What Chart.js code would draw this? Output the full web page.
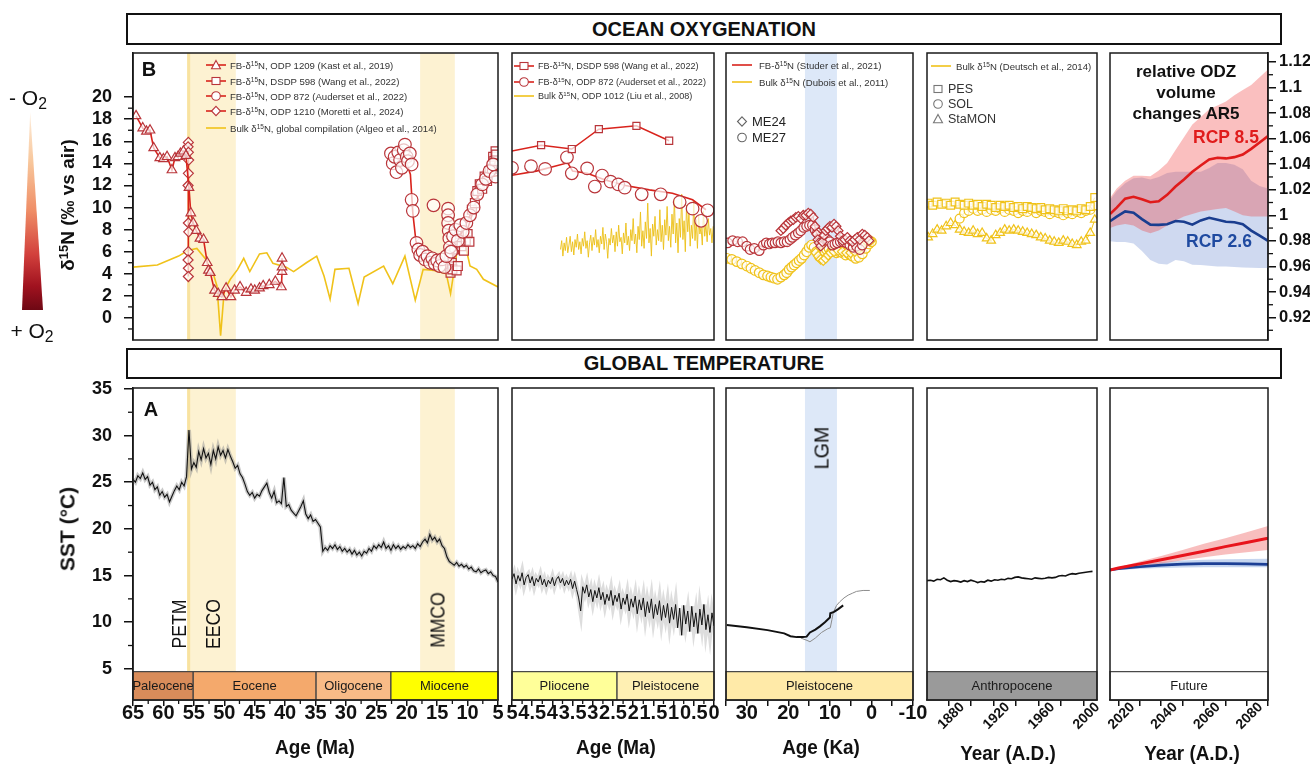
<!DOCTYPE html>
<html>
<head>
<meta charset="utf-8">
<title>Ocean oxygenation and global temperature</title>
<script src="https://cdn.jsdelivr.net/npm/chart.js@4.4.1/dist/chart.umd.min.js"></script>
<style>
  body { margin: 0; background: #fff; }
  #stage { position: relative; width: 1310px; height: 771px; overflow: hidden; font-family: "Liberation Sans", Arial, sans-serif; color: #111; }
  #stage canvas { position: absolute; z-index: 1; }
  .t { position: absolute; transform: translate(-50%, -50%); white-space: nowrap; line-height: 1; z-index: 3; }
  .rot { transform: translate(-50%, -50%) rotate(-90deg); }
  .nb { font-weight: bold; transform: translate(-50%, -50%) scaleX(0.9); }
  .hbox { position: absolute; box-sizing: border-box; border: 2px solid #111; display: flex; align-items: center; justify-content: center; font: bold 20px "Liberation Sans", Arial, sans-serif; background: #fff; z-index: 3; }
  .lg { position: absolute; display: flex; align-items: center; gap: 3px; transform: translateY(-50%); white-space: nowrap; color: #333; font-size: 9.6px; z-index: 3; }
  .lg svg { display: block; }
  sup { font-size: 0.68em; line-height: 0; vertical-align: 0.45em; }
  sub { font-size: 0.75em; line-height: 0; vertical-align: -0.3em; }
  #cbar { position: absolute; left: 22px; top: 112px; width: 21px; height: 198px; z-index: 3;
          background: linear-gradient(to bottom, #fdeedd 0%, #f8c79c 25%, #ef8d66 50%, #d2403c 72%, #a0121f 88%, #6e0814 100%);
          clip-path: polygon(39% 0, 100% 100%, 0 100%); }
</style>
</head>
<body>
<div id="stage">
  <div class="hbox" style="left:126px;top:13px;width:1156px;height:32px">OCEAN OXYGENATION</div>
  <div class="hbox" style="left:126px;top:348px;width:1156px;height:31px">GLOBAL TEMPERATURE</div>
  <div id="cbar"></div>
</div>
<script>
// ---------- tick labels ----------
const ageTicksMa = [65, 60, 55, 50, 45, 40, 35, 30, 25, 20, 15, 10, 5];
const ageTicksPlio = [5, 4.5, 4, 3.5, 3, 2.5, 2, 1.5, 1, 0.5, 0];
const ageTicksKa = [35, 30, 25, 20, 15, 10, 5, 0, -5, -10];
const ageLabelsKa = [30, 20, 10, 0, -10];
const yearTicksHist = [1880, 1900, 1920, 1940, 1960, 1980, 2000];
const yearLabelsHist = [1880, 1920, 1960, 2000];
const yearTicksFut = [2020, 2030, 2040, 2050, 2060, 2070, 2080, 2090];
const yearLabelsFut = [2020, 2040, 2060, 2080];
const sstTicks = [5, 10, 15, 20, 25, 30, 35];
const d15nTicks = [0, 2, 4, 6, 8, 10, 12, 14, 16, 18, 20];
const odzTicks = [0.92, 0.94, 0.96, 0.98, 1, 1.02, 1.04, 1.06, 1.08, 1.1, 1.12];

// ---------- epochs and shaded intervals ----------
const epochsCenozoic = [
  {from: 65, to: 55.1, label: 'Paleocene', color: '#d98c5a'},
  {from: 55.1, to: 34.9, label: 'Eocene', color: '#f4a96c'},
  {from: 34.9, to: 22.6, label: 'Oligocene', color: '#f8bb87'},
  {from: 22.6, to: 5, label: 'Miocene', color: '#ffff00'}
];
const epochsPlio = [
  {from: 5, to: 2.4, label: 'Pliocene', color: '#ffff99'},
  {from: 2.4, to: 0, label: 'Pleistocene', color: '#fff0b3'}
];
const epochsLGM = [{from: 35, to: -10, label: 'Pleistocene', color: '#ffeaa8'}];
const epochsHist = [{from: 1861, to: 2012, label: 'Anthropocene', color: '#9a9a9a'}];
const epochsFut = [{from: 2016, to: 2090, label: 'Future', color: '#ffffff'}];
const climateBands = [
  {from: 56.1, to: 48.1, color: '#fdf2d2'},   // EECO
  {from: 56.1, to: 55.6, color: '#f8e2a0'},   // PETM
  {from: 17.8, to: 12.1, color: '#fdf2d2'}    // MMCO
];
const lgmBand = [{from: 16, to: 8.3, color: '#dde8f8'}];

// ---------- B: d15N records (age Ma, permil) ----------
const kast1209 = [[64.5,18.3],[63.4,17.2],[62.8,16.9],[62.2,17.0],[61.6,15.4],[60.6,14.5],[60.0,14.4],[59.4,14.6],[58.6,13.4],[58.1,14.5],[57.6,14.6],[57.2,14.9],[56.7,15.1],[56.3,14.7],[55.8,11.8],[55.5,9.5],[55.1,8.6],[54.6,7.9],[54.0,7.2],[53.4,7.1],[52.8,5.0],[52.6,4.3],[52.3,4.1],[51.6,2.5],[51.0,2.2],[50.4,1.9],[49.7,2.7],[48.9,1.9],[48.3,2.5],[47.4,2.8],[46.4,2.3],[45.6,2.6],[45.0,2.5],[44.2,2.7],[43.6,2.9],[42.6,3.0],[41.6,3.3],[40.6,2.8],[40.5,4.2],[40.5,4.6],[40.5,5.4]];
const moretti1210 = [[55.9,15.9],[55.95,15.5],[55.9,15.0],[55.85,14.3],[55.9,13.1],[55.95,12.0],[55.9,8.6],[55.85,7.8],[55.9,6.0],[55.95,5.25],[55.9,4.5],[55.9,3.75]];
const auderset872 = [[22.6,14.9],[22.3,14.0],[22.0,14.6],[21.7,13.2],[21.4,15.0],[21.1,14.3],[20.8,13.6],[20.5,15.2],[20.3,15.7],[20.0,14.6],[19.8,14.2],[19.5,14.9],[19.2,13.9],[19.2,10.7],[19.0,9.7],[18.4,6.8],[18.1,6.2],[17.8,5.7],[17.4,6.0],[17.0,5.3],[16.6,5.6],[16.2,5.0],[15.8,5.4],[15.6,10.2],[15.4,4.9],[15.0,5.2],[14.6,4.7],[14.2,5.3],[13.8,4.6],[13.5,5.6],[13.2,9.9],[13.2,9.3],[13.2,8.6],[13.1,7.9],[13.0,7.2],[12.9,6.4],[12.7,6.0],[12.4,7.4],[12.0,8.0],[11.6,7.0],[11.2,8.4],[10.8,7.8],[10.2,8.6],[9.6,9.3],[9.0,10.0],[8.4,11.2],[7.6,12.1],[7.0,12.6],[6.4,13.3],[5.8,13.9],[5.4,12.8]];
const auderset872Fit = [[22.6,14.6],[21.0,14.3],[20.0,14.0],[19.4,13.0],[19.0,9.5],[18.5,7.0],[18.0,6.0],[17.0,5.6],[16.0,5.3],[15.0,5.1],[14.0,5.0],[13.0,5.3],[12.0,6.5],[11.0,7.7],[10.0,8.8],[9.0,10.0],[8.0,11.3],[7.0,12.3],[6.0,12.8],[5.0,12.9]];
const wang598 = [[13.0,5.5],[12.9,4.6],[12.8,4.1],[12.6,5.0],[12.5,4.4],[12.2,6.2],[12.0,7.1],[11.8,4.3],[11.6,4.7],[11.4,6.8],[11.0,6.5],[10.6,6.1],[10.3,7.0],[10.0,7.6],[9.7,6.9],[9.3,9.8],[8.8,10.4],[8.4,11.5],[8.0,12.1],[7.6,11.7],[7.2,12.8],[6.8,12.4],[6.4,13.3],[6.0,13.5],[5.8,14.6],[5.6,14.2],[5.4,15.1],[5.3,14.8]];
const wang598Fit = [[13.2,4.8],[12.9,5.0],[11.8,5.8],[10.7,6.9],[9.8,8.4],[9.0,9.8],[8.2,11.3],[7.3,12.0],[6.3,12.6],[5.7,13.7],[5.2,14.6],[4.9,15.0]];
const algeoBulk = [[65,4.6],[61,4.8],[57.5,5.6],[56,6.1],[54.5,6.3],[53,5.3],[51.8,4.0],[51.2,2.9],[50.6,-1.6],[50.0,2.5],[49.0,3.5],[47.8,4.4],[46.8,5.4],[45.8,4.2],[44.2,5.8],[43.0,5.9],[42.0,4.95],[39.8,4.6],[38.6,4.2],[36.5,5.0],[34.8,5.6],[33.6,3.8],[32.6,1.7],[31.8,4.4],[29.5,4.5],[28.0,1.3],[27.0,3.7],[23.8,4.7],[22.3,3.1],[20.3,5.6],[18.6,1.6],[17.3,4.4],[15.5,4.3],[13.5,4.0],[12.8,2.2],[11.8,5.8],[10.7,7.4],[9.6,4.7],[8.5,4.4],[7.4,3.5],[5,2.8]];

// Pliocene-Pleistocene (Ma)
const wang598Plio = [[5.3,14.9],[4.28,15.65],[3.52,15.3],[2.85,17.1],[1.92,17.4],[1.11,16.05]];
const auderset872Plio = [[5.0,13.6],[4.53,13.75],[4.18,13.5],[3.64,14.55],[3.52,13.1],[3.14,13.55],[2.95,11.9],[2.77,12.9],[2.56,12.35],[2.37,12.1],[2.21,11.8],[1.79,11.2],[1.32,11.2],[0.85,10.5],[0.53,9.9],[0.32,8.8],[0.16,9.75]];
const auderset872PlioFit = [[5.2,12.8],[4.4,13.3],[3.62,14.05],[3.5,13.3],[3.14,13.1],[2.69,12.5],[2.19,12.0],[1.6,11.6],[1.03,11.3],[0.53,10.7],[0.2,9.8]];
const liu1012Start = 3.8, liu1012Step = -0.03;
const liu1012 = [
  6.2,7.0,5.6,6.8,6.1,7.3,5.9,6.6,7.4,6.0,
  6.9,5.7,7.1,6.4,7.6,6.2,6.9,5.8,7.2,6.5,
  7.8,6.3,7.0,5.5,6.8,7.5,6.1,7.3,6.6,8.0,
  6.4,7.1,5.9,7.4,6.7,8.2,6.2,7.6,6.9,5.4,
  7.2,6.6,8.1,6.8,7.5,6.0,7.8,6.5,8.4,6.9,
  7.3,5.8,7.7,6.8,8.6,6.6,7.4,6.1,8.0,7.0,
  9.0,6.7,7.6,5.9,8.3,7.1,9.6,6.5,7.9,6.3,
  8.7,7.2,10.4,6.8,8.1,5.6,8.5,7.4,9.2,6.6,
  8.0,7.0,9.8,6.9,8.4,6.2,8.9,7.5,10.1,7.0,
  8.3,6.4,9.4,7.6,10.8,6.8,8.6,5.9,9.0,7.3,
  11.2,7.1,8.8,6.0,10.2,7.8,9.5,6.5,8.4,7.2,
  10.6,7.0,8.9,6.3,9.3,7.6,8.2,6.6,9.7,7.4,
  8.5,6.9,9.0,7.5,8.1,6.8,8.3];

// Last glacial (ka)
const studerME27 = [[34.6,6.8],[33.4,7.0],[32.2,6.9],[31.0,6.9],[30.0,6.5],[29.2,6.2],[28.2,6.3],[27.0,6.1],[26.0,6.6],[25.3,6.8],[24.6,6.7],[23.9,6.8],[23.2,6.8],[22.5,6.9],[21.8,6.8],[21.0,6.9],[20.3,6.9],[19.6,7.1],[19.0,7.3],[18.3,7.5],[17.6,7.7],[17.0,7.9],[16.3,8.2],[15.6,8.3],[14.9,8.4],[14.2,8.4],[13.6,8.0],[13.0,7.7],[12.4,7.3],[11.8,7.2],[11.2,7.3],[10.6,7.1],[10.0,6.9],[9.4,6.6],[8.8,6.7],[8.2,6.8],[7.5,6.9],[6.8,6.9],[6.0,6.8],[5.2,6.6],[4.4,6.4],[3.6,6.5],[2.8,6.2],[2.2,6.6]];
const studerME24 = [[21.8,7.9],[21.2,8.1],[20.6,8.4],[20.0,8.6],[19.4,8.8],[18.8,8.9],[18.2,9.1],[17.6,9.2],[17.0,9.0],[16.4,9.3],[15.8,9.3],[15.2,9.5],[14.6,9.4],[14.0,9.1],[13.6,8.3],[13.2,7.6],[12.9,7.1],[12.6,6.8],[12.2,6.5],[11.8,6.9],[11.4,7.5],[11.0,7.9],[10.5,8.1],[10.0,8.3],[9.5,8.2],[9.0,8.5],[8.5,8.3],[8.0,7.9],[7.5,7.4],[7.0,7.0],[6.4,7.1],[5.8,7.3],[5.2,7.0],[4.6,6.9],[4.0,7.1],[3.4,7.3],[2.8,7.1],[2.2,7.6],[1.6,7.5],[1.0,7.3],[0.6,7.0]];
const duboisME27 = [[34.8,5.4],[33.6,5.3],[32.4,5.1],[31.2,4.9],[30.0,4.7],[29.0,4.5],[28.0,4.3],[27.0,4.1],[26.0,3.9],[25.0,3.8],[24.2,3.7],[23.4,3.6],[22.6,3.5],[21.8,3.7],[21.0,3.9],[20.4,4.1],[19.8,4.4],[19.2,4.6],[18.6,4.8],[18.0,5.0],[17.4,5.2],[16.8,5.4],[16.2,5.7],[15.6,6.0],[15.0,6.4],[14.4,6.6],[13.8,6.4],[13.2,6.0],[12.6,5.6],[12.0,5.8],[11.4,6.0],[10.8,6.2],[10.2,6.3],[9.6,6.0],[9.0,6.1],[8.4,5.9],[7.8,6.0],[7.0,5.9],[6.2,5.7],[5.4,5.8],[4.6,5.6],[3.8,5.4],[3.0,5.5],[2.2,5.8],[1.4,6.3],[0.6,6.7],[0.0,6.9]];
const duboisME24 = [[13.4,5.9],[12.8,5.6],[12.2,5.3],[11.6,5.2],[11.0,5.4],[10.4,5.7],[9.8,5.9],[9.0,6.0],[8.0,6.1],[7.0,6.0],[6.0,5.9],[5.0,5.9],[4.0,6.0],[3.0,6.3],[2.2,6.6],[1.4,7.0],[0.8,7.2],[0.2,7.0]];

// Industrial era (year AD), one value every 4 years from 1862
const deutschStart = 1862, deutschStep = 4;
const pes = [10.4,10.2,10.5,10.3,10.4,10.2,10.5,10.3,10.2,10.4,
             10.2,10.3,10.1,10.3,10.2,10.0,10.2,10.1,10.2,10.0,
             10.1,9.9,10.1,10.0,9.9,10.0,9.8,9.9,9.8,9.7,
             9.9,9.7,9.8,9.7,9.9,9.8,10.1,10.9];
const sol = [null,null,null,null,null,null,null,9.0,9.5,9.7,
             9.9,9.7,9.8,9.6,9.8,9.7,9.9,9.6,9.8,9.7,
             9.5,9.7,9.6,9.8,9.5,9.7,9.6,9.4,9.6,9.5,
             9.3,9.5,9.4,9.6,9.5,9.7,9.8,10.2];
const staMON = [7.3,7.6,8.0,7.9,8.3,8.6,8.4,8.0,7.8,7.7,
                7.9,7.6,7.7,7.2,7.0,7.5,7.7,8.0,7.9,8.0,
                7.9,7.8,7.7,7.6,7.5,7.3,7.2,7.0,6.9,6.8,
                7.0,6.9,6.7,6.6,6.9,7.0,7.7,8.9];

// ODZ volume projections (AR5)
const odzYears = [2006,2010,2015,2020,2025,2030,2035,2040,2045,2050,2055,2060,2065,2070,2075,2080,2085,2090,2095,2100];
const odz85 = [1.001,1.006,1.013,1.0145,1.0125,1.0102,1.011,1.016,1.0225,1.028,1.034,1.039,1.0437,1.045,1.0445,1.0455,1.0476,1.052,1.057,1.062];
const odz85Hi = [1.0136,1.021,1.027,1.031,1.031,1.0305,1.035,1.041,1.051,1.061,1.071,1.077,1.083,1.086,1.089,1.094,1.098,1.102,1.108,1.114];
const odz85Lo = [0.990,0.992,0.9932,0.992,0.988,0.986,0.988,0.992,0.996,0.999,1.001,1.003,1.004,1.005,1.0057,1.003,1.0,0.999,0.999,0.999];
const odz26 = [0.9953,0.999,1.003,1.002,0.997,0.9927,0.9925,0.993,0.9955,0.995,0.9927,0.996,0.998,0.9965,0.995,0.9945,0.993,0.988,0.984,0.980];
const odz26Hi = [1.012,1.019,1.025,1.029,1.0295,1.028,1.030,1.033,1.034,1.034,1.034,1.034,1.037,1.041,1.041,1.0395,1.036,1.027,1.023,1.021];
const odz26Lo = [0.9796,0.979,0.979,0.978,0.972,0.965,0.962,0.9615,0.965,0.964,0.9613,0.961,0.9605,0.960,0.960,0.9595,0.9592,0.959,0.9588,0.9587];

// ---------- A: SST records (deg C) ----------
const sstCenozoicStart = 65, sstCenozoicStep = -0.4;
const sstCenozoic = [
  25.3,25.0,25.7,25.4,26.0,25.3,25.6,24.7,25.0,24.2,
  24.5,23.6,24.0,23.4,23.7,22.9,23.5,24.1,24.6,24.2,
  25.0,24.6,25.6,30.6,26.4,27.1,26.6,28.3,27.4,28.6,
  27.6,28.1,26.9,28.4,27.5,28.8,27.9,28.4,27.6,28.5,
  27.8,27.2,26.5,26.8,25.9,25.5,24.8,24.0,23.6,23.9,
  23.3,23.7,23.5,24.1,24.5,24.9,23.9,23.3,24.0,22.8,
  23.0,22.7,25.5,22.4,22.6,22.0,21.7,21.4,21.9,22.4,
  23.0,21.6,21.1,21.5,20.8,21.0,20.6,20.2,17.6,18.0,
  17.7,18.2,17.9,18.3,17.8,18.1,17.6,17.9,17.5,17.8,
  17.3,17.7,17.2,17.5,17.1,17.6,17.4,17.9,17.6,18.2,
  17.9,18.3,18.0,18.6,17.9,18.2,17.7,18.3,17.9,18.2,
  17.8,18.1,17.9,18.3,18.0,18.2,17.9,18.4,18.1,18.6,
  18.9,18.5,19.4,18.8,19.1,18.6,18.9,18.2,17.9,17.0,
  16.5,16.3,16.1,16.4,16.0,16.2,15.9,16.1,15.7,15.9,
  15.5,15.4,15.7,15.3,15.5,15.6,15.2,15.4,15.0,14.9,
  14.3];
const sstPlioStart = 5, sstPlioStep = -0.05;
const sstPlio = [
  14.6,15.2,14.1,15.0,14.4,15.3,14.0,14.8,15.1,14.2,
  14.9,13.9,14.7,14.3,15.0,14.0,14.6,13.8,14.5,14.1,
  14.8,13.9,14.6,14.9,14.2,14.7,13.9,14.5,14.0,14.6,
  13.6,14.4,13.5,12.6,11.2,13.8,13.1,14.0,12.7,13.5,
  12.2,13.4,12.6,13.7,12.4,13.2,11.9,13.0,12.3,13.4,
  11.8,12.9,12.2,13.1,11.4,12.6,11.9,13.0,11.2,12.5,
  11.6,12.8,10.9,12.4,11.3,12.6,10.6,12.2,11.0,12.5,
  10.4,11.9,10.8,12.3,10.2,11.8,10.5,12.0,9.9,11.6,
  10.3,11.9,9.4,11.5,8.6,11.8,9.8,11.2,9.0,11.7,
  9.5,11.0,8.8,11.4,9.7,11.9,9.2,10.8,8.9,11.0,
  9.6];
const sstLGM = [[34.8,9.7],[30,9.45],[25,9.15],[21,8.8],[19.5,8.5],[18,8.4],[16.5,8.4],[15.6,8.45],[14.8,8.9],[13.5,9.2],[12.4,9.55],[11.2,10.0],[10.0,10.5],[9.9,10.95],[9.0,11.1],[8.0,11.4],[6.8,11.8]];
const sstLGMalt = [[17.0,8.3],[15.5,8.05],[14.8,7.9],[13.5,8.3],[12.0,8.9],[10.5,9.3],[9.9,9.4],[9.5,10.3],[9.2,11.0],[8.4,11.8],[7.6,12.2],[6.6,12.6],[5.6,12.9],[4.6,13.1],[3.6,13.3],[2.0,13.4],[0.4,13.4]];
const sstHistStart = 1861, sstHistStep = 3;
const sstHist = [
  14.45,14.5,14.4,14.6,14.55,14.75,14.5,14.35,14.45,14.4,
  14.3,14.45,14.35,14.5,14.4,14.25,14.35,14.3,14.5,14.4,
  14.55,14.5,14.6,14.55,14.7,14.65,14.8,14.85,14.75,14.7,
  14.65,14.6,14.75,14.7,14.65,14.7,14.8,14.75,14.8,14.95,
  15.0,14.95,15.1,15.2,15.15,15.25,15.3,15.35,15.4,15.45];
const futYears = [2016,2020,2030,2040,2050,2060,2070,2080,2090];
const fut85 = [15.6,15.8,16.25,16.7,17.15,17.6,18.1,18.55,19.0];
const fut85Hi = [15.65,15.9,16.5,17.1,17.75,18.4,19.0,19.65,20.3];
const fut85Lo = [15.55,15.65,15.95,16.3,16.65,16.95,17.25,17.5,17.75];
const fut26 = [15.6,15.72,15.95,16.12,16.22,16.28,16.28,16.25,16.2];
const fut26Hi = [15.65,15.85,16.2,16.45,16.6,16.7,16.75,16.78,16.8];
const fut26Lo = [15.55,15.6,15.72,15.8,15.85,15.88,15.9,15.9,15.9];

// ---------- helpers ----------
const FONT = '"Liberation Sans", Arial, sans-serif';
Chart.defaults.font.family = FONT;
Chart.defaults.color = '#111';

const RED = '#d9231c', RED_MK = '#b9353a', YEL = '#f0c21a', BLUE = '#1b3f94';
const yFont = {family: FONT, weight: 'bold', size: 18};
const xFont = {family: FONT, weight: 'bold', size: 20, lineHeight: 1};
const rotFont = {family: FONT, weight: 'bold', size: 14, lineHeight: 1};

const pairs = arr => arr.map(p => ({x: p[0], y: p[1]}));
const zip = (xs, ys) => xs.map((x, i) => ({x, y: ys[i]}));
const seq = (start, step, vals) => vals.map((v, i) => ({x: +(start + i * step).toFixed(3), y: v}));
function range(a, b, s) { const r = []; for (let v = a; v <= b + 1e-9; v += s) r.push(+v.toFixed(4)); return r; }

function axis(o) {
  const a = {type: 'linear', min: o.min, max: o.max, reverse: !!o.reverse, bounds: 'data', position: o.pos, display: !!o.ticks};
  if (!o.ticks) return a;
  a.afterBuildTicks = s => { s.ticks = o.ticks.map(v => ({value: v})); };
  a.afterFit = s => {
    if (s.isHorizontal()) s.height = o.size; else s.width = o.size;
    s.paddingLeft = s.paddingRight = s.paddingTop = s.paddingBottom = 0;
  };
  a.grid = {drawOnChartArea: false, drawTicks: true, tickLength: o.len || 8, tickWidth: 1.5, tickColor: '#111', color: '#111', lineWidth: 1.5};
  a.border = {display: true, color: '#111', width: 1.5};
  a.ticks = {font: o.font, color: '#111', padding: o.pad || 0, autoSkip: false,
             maxRotation: o.rot || 0, minRotation: o.rot || 0, labelOffset: o.off || 0,
             callback: v => (!o.labels || o.labels.includes(v)) ? String(v) : ''};
  return a;
}

const bandPlugin = {
  id: 'bands',
  beforeDatasetsDraw(chart, args, opts) {
    if (!opts || !opts.items) return;
    const {ctx, chartArea: a, scales: {x}} = chart;
    ctx.save();
    opts.items.forEach(b => {
      const x1 = x.getPixelForValue(b.from), x2 = x.getPixelForValue(b.to);
      ctx.fillStyle = b.color;
      ctx.fillRect(Math.min(x1, x2), a.top, Math.abs(x2 - x1), a.height);
    });
    ctx.restore();
  }
};

const epochPlugin = {
  id: 'epochs',
  afterDatasetsDraw(chart, args, opts) {
    if (!opts || !opts.items) return;
    const {ctx, chartArea: a, scales: {x, y}} = chart;
    const top = y.getPixelForValue(opts.top);
    ctx.save();
    opts.items.forEach(e => {
      const x1 = x.getPixelForValue(e.from), x2 = x.getPixelForValue(e.to);
      const l = Math.min(x1, x2), w = Math.abs(x2 - x1);
      ctx.fillStyle = e.color;
      ctx.fillRect(l, top, w, a.bottom - top);
      ctx.strokeStyle = '#444'; ctx.lineWidth = 1.2;
      ctx.strokeRect(l, top, w, a.bottom - top);
      ctx.fillStyle = '#1a1a1a';
      ctx.font = '13px ' + FONT;
      ctx.textAlign = 'center'; ctx.textBaseline = 'middle';
      ctx.fillText(e.label, l + w / 2, (top + a.bottom) / 2 + 1);
    });
    ctx.restore();
  }
};

const minorPlugin = {
  id: 'minor',
  afterDraw(chart, args, opts) {
    if (!opts || !opts.list) return;
    const {ctx, chartArea: a} = chart;
    ctx.save(); ctx.strokeStyle = '#111'; ctx.lineWidth = 1.3;
    opts.list.forEach(m => {
      const s = chart.scales[m.axis];
      m.values.forEach(v => {
        const p = s.getPixelForValue(v);
        ctx.beginPath();
        if (m.axis === 'x') { ctx.moveTo(p, a.bottom); ctx.lineTo(p, a.bottom + m.len); }
        else if (s.position === 'right') { ctx.moveTo(a.right, p); ctx.lineTo(a.right + m.len, p); }
        else { ctx.moveTo(a.left, p); ctx.lineTo(a.left - m.len, p); }
        ctx.stroke();
      });
    });
    ctx.restore();
  }
};

const framePlugin = {
  id: 'frame',
  afterDraw(chart) {
    const {ctx, chartArea: a} = chart;
    ctx.save(); ctx.strokeStyle = '#1a1a1a'; ctx.lineWidth = 1.5;
    ctx.strokeRect(a.left, a.top, a.width, a.height);
    ctx.restore();
  }
};

const stage = document.getElementById('stage');
function makeChart(box, pad, scales, datasets, plug) {
  const cv = document.createElement('canvas');
  cv.width = box.w; cv.height = box.h;
  cv.style.cssText = `left:${box.l}px;top:${box.t}px;width:${box.w}px;height:${box.h}px`;
  stage.appendChild(cv);
  return new Chart(cv, {
    type: 'scatter',
    data: {datasets},
    options: {
      responsive: false, animation: false, events: [],
      layout: {padding: pad},
      scales,
      plugins: Object.assign({legend: {display: false}, tooltip: {enabled: false}}, plug || {})
    },
    plugins: [bandPlugin, epochPlugin, minorPlugin, framePlugin]
  });
}

function line(data, color, width, extra) {
  return Object.assign({data, showLine: true, borderColor: color, borderWidth: width, pointRadius: 0, fill: false}, extra || {});
}
function marks(data, style, color, r, extra) {
  return Object.assign({data, showLine: false, pointStyle: style, pointRadius: r, pointBorderColor: color,
                        pointBackgroundColor: 'rgba(255,255,255,0.7)', pointBorderWidth: 1.2}, extra || {});
}

// ---------- top row: ocean oxygenation ----------
const padTop = {top: 8, bottom: 10};
const yD15N = {min: -2, max: 24};

makeChart({l: 40, t: 45, w: 470, h: 305}, Object.assign({left: 0, right: 12}, padTop), {
  x: axis({min: 5, max: 65, reverse: true}),
  y: axis(Object.assign({ticks: d15nTicks, size: 93, font: yFont, len: 9, pad: 12, pos: 'left'}, yD15N))
}, [
  marks(pairs(kast1209), 'triangle', RED_MK, 5.5, {showLine: true, borderColor: RED, borderWidth: 1.6}),
  marks(pairs(moretti1210), 'rectRot', RED_MK, 5, {showLine: true, borderColor: RED, borderWidth: 1.5}),
  marks(pairs(auderset872), 'circle', RED_MK, 6.3),
  marks(pairs(wang598), 'rect', RED_MK, 6.3),
  line(pairs(auderset872Fit), RED, 1.6),
  line(pairs(wang598Fit), RED, 1.6),
  line(pairs(algeoBulk), YEL, 1.6)
], {bands: {items: climateBands}, minor: {list: [{axis: 'y', values: range(-1, 19, 2), len: 5}]}});

makeChart({l: 502, t: 45, w: 222, h: 305}, Object.assign({left: 10, right: 10}, padTop), {
  x: axis({min: 0, max: 5, reverse: true}),
  y: axis(yD15N)
}, [
  marks(pairs(wang598Plio), 'rect', RED_MK, 5, {showLine: true, borderColor: RED, borderWidth: 1.5}),
  marks(pairs(auderset872Plio), 'circle', RED_MK, 6.3),
  line(pairs(auderset872PlioFit), RED, 1.6),
  line(seq(liu1012Start, liu1012Step, liu1012), 'rgba(236,192,22,0.9)', 1)
]);

makeChart({l: 716, t: 45, w: 207, h: 305}, Object.assign({left: 10, right: 10}, padTop), {
  x: axis({min: -10, max: 35, reverse: true}),
  y: axis(yD15N)
}, [
  marks(pairs(studerME24), 'rectRot', RED_MK, 4.8, {showLine: true, borderColor: RED, borderWidth: 1.2}),
  marks(pairs(studerME27), 'circle', RED_MK, 4.8, {showLine: true, borderColor: RED, borderWidth: 1.2}),
  marks(pairs(duboisME24), 'rectRot', YEL, 4.8, {showLine: true, borderColor: YEL, borderWidth: 1.2}),
  marks(pairs(duboisME27), 'circle', YEL, 4.8, {showLine: true, borderColor: YEL, borderWidth: 1.2})
], {bands: {items: lgmBand}});

makeChart({l: 917, t: 45, w: 190, h: 305}, Object.assign({left: 10, right: 10}, padTop), {
  x: axis({min: 1861, max: 2012}),
  y: axis(yD15N)
}, [
  marks(seq(deutschStart, deutschStep, pes), 'rect', YEL, 5.5, {showLine: true, borderColor: YEL, borderWidth: 1}),
  marks(seq(deutschStart, deutschStep, sol), 'circle', YEL, 4.5, {showLine: true, borderColor: YEL, borderWidth: 1}),
  marks(seq(deutschStart, deutschStep, staMON), 'triangle', YEL, 5, {showLine: true, borderColor: YEL, borderWidth: 1})
]);

makeChart({l: 1100, t: 45, w: 210, h: 305}, Object.assign({left: 10, right: 0}, padTop), {
  x: axis({min: 2006, max: 2100}),
  y: axis({min: 0.9024, max: 1.127, ticks: odzTicks, size: 42, font: {family: FONT, weight: 'bold', size: 16.5}, len: 8, pad: 3, pos: 'right'})
}, [
  line(zip(odzYears, odz85), '#e01b1b', 2.6),
  line(zip(odzYears, odz26), '#1a3d8f', 2.6),
  line(zip(odzYears, odz85Hi), 'rgba(0,0,0,0)', 0, {fill: '+1', backgroundColor: 'rgba(240,60,60,0.33)'}),
  line(zip(odzYears, odz85Lo), 'rgba(0,0,0,0)', 0),
  line(zip(odzYears, odz26Hi), 'rgba(0,0,0,0)', 0, {fill: '+1', backgroundColor: 'rgba(160,180,225,0.5)'}),
  line(zip(odzYears, odz26Lo), 'rgba(0,0,0,0)', 0)
], {minor: {list: [{axis: 'y', values: range(0.91, 1.11, 0.02), len: 5}]}});

// ---------- bottom row: global temperature ----------
const padBot = {top: 8, bottom: 31};
const ySST = {min: 1.66, max: 35.1};
const stripTop = 4.7;

makeChart({l: 40, t: 380, w: 470, h: 391}, Object.assign({left: 0, right: 12}, padBot), {
  x: axis({min: 5, max: 65, reverse: true, ticks: ageTicksMa, size: 40, font: xFont, len: 6, pad: -3, pos: 'bottom'}),
  y: axis(Object.assign({ticks: sstTicks, size: 93, font: yFont, len: 9, pad: 12, pos: 'left'}, ySST))
}, [
  line(seq(sstCenozoicStart, sstCenozoicStep, sstCenozoic), '#111', 1.1),
  line(seq(sstCenozoicStart, sstCenozoicStep, sstCenozoic), 'rgba(150,150,150,0.5)', 4)
], {bands: {items: climateBands}, epochs: {items: epochsCenozoic, top: stripTop},
    minor: {list: [{axis: 'y', values: range(7.5, 32.5, 5), len: 5}, {axis: 'x', values: range(7.5, 62.5, 5), len: 4}]}});

makeChart({l: 502, t: 380, w: 222, h: 391}, Object.assign({left: 10, right: 10}, padBot), {
  x: axis({min: 0, max: 5, reverse: true, ticks: ageTicksPlio, size: 40, font: xFont, len: 6, pad: -3, pos: 'bottom'}),
  y: axis(ySST)
}, [
  line(seq(sstPlioStart, sstPlioStep, sstPlio), '#111', 1),
  line(seq(sstPlioStart, sstPlioStep, sstPlio), 'rgba(170,170,170,0.4)', 5)
], {epochs: {items: epochsPlio, top: stripTop},
    minor: {list: [{axis: 'x', values: range(0.25, 4.75, 0.5), len: 4}]}});

makeChart({l: 716, t: 380, w: 222, h: 391}, Object.assign({left: 10, right: 25}, padBot), {
  x: axis({min: -10, max: 35, reverse: true, ticks: ageTicksKa, labels: ageLabelsKa, size: 40, font: xFont, len: 6, pad: -3, pos: 'bottom'}),
  y: axis(ySST)
}, [
  line(pairs(sstLGM), '#111', 2),
  line(pairs(sstLGMalt), 'rgb(140,140,140)', 1)
], {bands: {items: lgmBand}, epochs: {items: epochsLGM, top: stripTop}});

makeChart({l: 917, t: 380, w: 190, h: 391}, Object.assign({left: 10, right: 10}, padBot), {
  x: axis({min: 1861, max: 2012, ticks: yearTicksHist, labels: yearLabelsHist, size: 40, font: rotFont, len: 6, pad: -6, rot: 45, off: 14, pos: 'bottom'}),
  y: axis(ySST)
}, [
  line(seq(sstHistStart, sstHistStep, sstHist), '#111', 1.6)
], {epochs: {items: epochsHist, top: stripTop}});

makeChart({l: 1100, t: 380, w: 190, h: 391}, Object.assign({left: 10, right: 22}, padBot), {
  x: axis({min: 2016, max: 2090, ticks: yearTicksFut, labels: yearLabelsFut, size: 40, font: rotFont, len: 6, pad: -6, rot: 45, off: 14, pos: 'bottom'}),
  y: axis(ySST)
}, [
  line(zip(futYears, fut85), '#e8141c', 3),
  line(zip(futYears, fut26), '#1c3f95', 2.6),
  line(zip(futYears, fut85Hi), 'rgba(0,0,0,0)', 0, {fill: '+1', backgroundColor: 'rgba(240,110,110,0.45)'}),
  line(zip(futYears, fut85Lo), 'rgba(0,0,0,0)', 0),
  line(zip(futYears, fut26Hi), 'rgba(0,0,0,0)', 0, {fill: '+1', backgroundColor: 'rgba(110,150,215,0.4)'}),
  line(zip(futYears, fut26Lo), 'rgba(0,0,0,0)', 0)
], {epochs: {items: epochsFut, top: stripTop}});

// ---------- text, legends ----------
function txt(html, cx, cy, css, cls) {
  const d = document.createElement('div');
  d.className = 't ' + (cls || '');
  d.style.cssText = `left:${cx}px;top:${cy}px;` + (css || '');
  d.innerHTML = html;
  stage.appendChild(d);
}
function sym(shape, stroke, lineColor, w) {
  const W = w || 22, c = W / 2;
  let s = `<svg width="${W}" height="12">`;
  if (lineColor) s += `<line x1="1" y1="6" x2="${W - 1}" y2="6" stroke="${lineColor}" stroke-width="1.6"/>`;
  if (shape === 'tri') s += `<polygon points="${c},1.5 ${c + 4.5},9.8 ${c - 4.5},9.8" fill="#fff" stroke="${stroke}" stroke-width="1.1"/>`;
  if (shape === 'sq') s += `<rect x="${c - 4}" y="2.5" width="8" height="7" fill="#fff" stroke="${stroke}" stroke-width="1.1"/>`;
  if (shape === 'circ') s += `<circle cx="${c}" cy="6" r="4.3" fill="#fff" stroke="${stroke}" stroke-width="1.1"/>`;
  if (shape === 'dia') s += `<polygon points="${c},1.3 ${c + 4.5},6 ${c},10.7 ${c - 4.5},6" fill="#fff" stroke="${stroke}" stroke-width="1.1"/>`;
  return s + '</svg>';
}
function legend(x, y, svg, html, css) {
  const d = document.createElement('div');
  d.className = 'lg';
  d.style.cssText = `left:${x}px;top:${y}px;` + (css || '');
  d.innerHTML = svg + '<span>' + html + '</span>';
  stage.appendChild(d);
}
const d15 = 'δ<sup>15</sup>N';

legend(205, 65, sym('tri', RED_MK, RED), `FB-${d15}, ODP 1209 (Kast et al., 2019)`);
legend(205, 81, sym('sq', RED_MK, RED), `FB-${d15}, DSDP 598 (Wang et al., 2022)`);
legend(205, 96, sym('circ', RED_MK, RED), `FB-${d15}, ODP 872 (Auderset et al., 2022)`);
legend(205, 111, sym('dia', RED_MK, RED), `FB-${d15}, ODP 1210 (Moretti et al., 2024)`);
legend(205, 128, sym('', '', YEL), `Bulk ${d15}, global compilation (Algeo et al., 2014)`);

legend(513, 66, sym('sq', RED_MK, RED), `FB-${d15}, DSDP 598 (Wang et al., 2022)`, 'font-size:9.1px');
legend(513, 82, sym('circ', RED_MK, RED), `FB-${d15}, ODP 872 (Auderset et al., 2022)`, 'font-size:9.1px');
legend(513, 96, sym('', '', YEL), `Bulk ${d15}, ODP 1012 (Liu et al., 2008)`, 'font-size:9.1px');

legend(731, 65, sym('', '', RED), `FB-${d15} (Studer et al., 2021)`, 'gap:6px');
legend(731, 82, sym('', '', YEL), `Bulk ${d15} (Dubois et al., 2011)`, 'gap:6px');
legend(736, 121, sym('dia', '#666', null, 12), 'ME24', 'font-size:13px;gap:4px;color:#222');
legend(736, 137, sym('circ', '#666', null, 12), 'ME27', 'font-size:13px;gap:4px;color:#222');

legend(930, 66, sym('', '', YEL), `Bulk ${d15} (Deutsch et al., 2014)`, 'gap:4px');
legend(932, 89, sym('sq', '#777', null, 12), 'PES', 'font-size:12.5px;gap:4px');
legend(932, 104, sym('circ', '#777', null, 12), 'SOL', 'font-size:12.5px;gap:4px');
legend(932, 119, sym('tri', '#777', null, 12), 'StaMON', 'font-size:12.5px;gap:4px');

txt('relative ODZ<br>volume<br>changes AR5', 1186, 92, 'font-weight:bold;font-size:17px;line-height:21px;text-align:center');
txt('RCP 8.5', 1226, 138, 'font-weight:bold;font-size:17.5px;color:#e01b1b');
txt('RCP 2.6', 1219, 242, 'font-weight:bold;font-size:17.5px;color:#1f4aa0');

txt('B', 149, 69, 'font-weight:bold;font-size:20px');
txt('A', 151, 409, 'font-weight:bold;font-size:20px');
const narrowRot = 'font-size:21px;transform:translate(-50%,-50%) rotate(-90deg) scaleX(';
txt('PETM', 178, 624, narrowRot + '0.84)');
txt('EECO', 212, 624, narrowRot + '0.84)');
txt('MMCO', 437, 620, narrowRot + '0.83)');
txt('LGM', 821, 448, narrowRot + '0.94)');

txt(`${d15} (‰ vs air)`, 67, 205, 'font-weight:bold;font-size:19px', 'rot');
txt('SST (°C)', 67, 529, 'font-weight:bold;font-size:21px', 'rot');
txt('Age (Ma)', 315, 746, 'font-size:21px', 'nb');
txt('Age (Ma)', 616, 746, 'font-size:21px', 'nb');
txt('Age (Ka)', 821, 746, 'font-size:21px', 'nb');
txt('Year (A.D.)', 1008, 752, 'font-size:21px', 'nb');
txt('Year (A.D.)', 1192, 752, 'font-size:21px', 'nb');

txt('- O<sub>2</sub>', 28, 97, 'font-size:21px');
txt('+ O<sub>2</sub>', 32, 330, 'font-size:21px');
</script>
</body>
</html>
